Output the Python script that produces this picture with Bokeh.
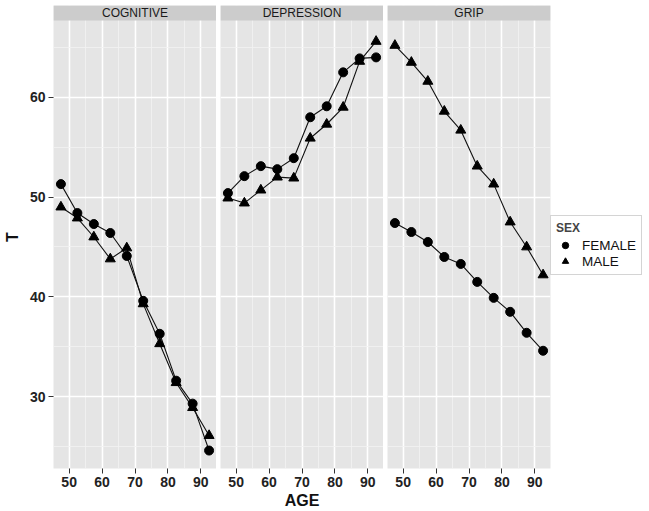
from bokeh.plotting import figure
from bokeh.models import Range1d, FixedTicker, Legend, LegendItem
from bokeh.layouts import row
from bokeh.embed import file_html
from bokeh.resources import INLINE
from bokeh.core.properties import value

# ---- data ----
panels = ["COGNITIVE", "DEPRESSION", "GRIP"]
age = [47.5, 52.5, 57.5, 62.5, 67.5, 72.5, 77.5, 82.5, 87.5, 92.5]
cog_female = [51.3, 48.4, 47.3, 46.4, 44.1, 39.6, 36.3, 31.6, 29.3, 24.6]
cog_male = [49.0, 47.9, 46.0, 43.8, 44.9, 39.3, 35.3, 31.4, 28.9, 26.1]
dep_female = [50.4, 52.1, 53.1, 52.8, 53.9, 58.0, 59.1, 62.5, 63.9, 64.0]
dep_male = [49.9, 49.4, 50.7, 52.0, 51.9, 55.9, 57.3, 59.0, 63.6, 65.6]
grip_female = [47.4, 46.5, 45.5, 44.0, 43.3, 41.5, 39.9, 38.5, 36.4, 34.6]
grip_male = [65.2, 63.5, 61.6, 58.6, 56.7, 53.1, 51.3, 47.5, 45.0, 42.2]
female = [cog_female, dep_female, grip_female]
male = [cog_male, dep_male, grip_male]
x_ticks = [50, 60, 70, 80, 90]
x_minor = [45, 55, 65, 75, 85, 95]
y_ticks = [30, 40, 50, 60]
y_minor = [25, 35, 45, 55, 65]

# ---- layout constants ----
X0, X1 = 45.25, 94.75
Y0, Y1 = 22.8, 67.7
STRIP = 1.5
FW, FH = 163, 463
TICK_FONT = "Liberation Sans"
yr = Range1d(Y0, Y1 + STRIP)

figs = []
legend_renderers = None
for i, name in enumerate(panels):
    p = figure(frame_width=FW, frame_height=FH,
               x_range=Range1d(X0, X1), y_range=yr,
               output_backend="svg", toolbar_location=None,
               background_fill_color="#e5e5e5", border_fill_color="white",
               outline_line_color=None,
               min_border_top=5, min_border_bottom=40,
               min_border_left=(41 if i == 0 else 4),
               min_border_right=0)
    # axes
    p.xaxis.ticker = FixedTicker(ticks=x_ticks, minor_ticks=x_minor)
    p.yaxis.ticker = FixedTicker(ticks=y_ticks, minor_ticks=y_minor)
    for ax in (p.xaxis[0], p.yaxis[0]):
        ax.axis_line_color = None
        ax.major_tick_line_color = "#333333"
        ax.major_tick_line_width = 1
        ax.major_tick_out = 5
        ax.major_tick_in = 0
        ax.minor_tick_line_color = None
        ax.major_label_text_font = TICK_FONT
        ax.major_label_text_font_style = "bold"
        ax.major_label_text_font_size = "14px"
        ax.major_label_text_color = "#222222"
        ax.major_label_standoff = 3
        ax.axis_label_text_font = TICK_FONT
        ax.axis_label_text_font_style = "bold"
        ax.axis_label_text_font_size = "16px"
        ax.axis_label_text_color = "#111111"
    if i == 0:
        p.yaxis.axis_label = "T"
        p.yaxis.axis_label_standoff = 6
    else:
        p.yaxis.visible = False
    if i == 1:
        p.xaxis.axis_label = "AGE"
        p.xaxis.axis_label_standoff = 2
    # grids
    p.xgrid.ticker = FixedTicker(ticks=x_ticks, minor_ticks=x_minor)
    p.ygrid.ticker = FixedTicker(ticks=y_ticks, minor_ticks=y_minor)
    for g in (p.xgrid[0], p.ygrid[0]):
        g.grid_line_color = "white"
        g.grid_line_width = 1.6
        g.minor_grid_line_color = "#f2f2f2"
        g.minor_grid_line_width = 0.8
    # strip
    p.quad(left=[X0], right=[X1], bottom=[Y1], top=[Y1 + STRIP],
           fill_color="#cccccc", line_color=None)
    p.text(x=[(X0 + X1) / 2], y=[Y1 + STRIP / 2], text=[name],
           text_align="center", text_baseline="middle",
           text_font=value("Liberation Sans"), text_font_size="12px",
           text_color="#1a1a1a")
    # data
    p.line(age, female[i], line_color="#111111", line_width=1.1)
    p.line(age, male[i], line_color="#111111", line_width=1.1)
    rf = p.scatter(age, female[i], marker="circle", size=9,
                   fill_color="black", line_color="black")
    rm = p.scatter(age, male[i], marker="triangle", size=10,
                   fill_color="black", line_color="black")
    legend_renderers = (rf, rm)
    figs.append(p)

p3 = figs[2]
legend = Legend(items=[LegendItem(label="FEMALE", renderers=[legend_renderers[0]]),
                       LegendItem(label="MALE", renderers=[legend_renderers[1]])],
                title="SEX", location=(0, 193))
legend.title_text_font = "Liberation Sans"
legend.title_text_font_style = "bold"
legend.title_text_font_size = "12px"
legend.title_standoff = 2
legend.label_text_font = "Liberation Sans"
legend.label_text_font_size = "13.5px"
legend.label_text_color = "#111111"
legend.border_line_color = "#aaaaaa"
legend.border_line_width = 1
legend.margin = 4
legend.padding = 5
legend.spacing = 0
legend.glyph_width = 18
legend.glyph_height = 16
legend.label_standoff = 8
p3.add_layout(legend, "right")

layout = row(*figs)
open("out.html", "w").write(file_html(layout, INLINE))
